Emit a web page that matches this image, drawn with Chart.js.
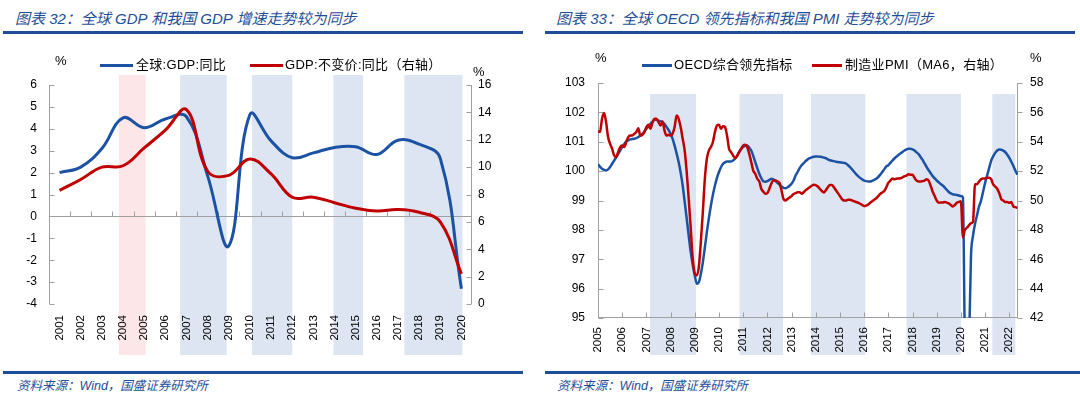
<!DOCTYPE html>
<html>
<head>
<meta charset="utf-8">
<script src="https://cdn.jsdelivr.net/npm/chart.js@4/dist/chart.umd.min.js"></script>
<style>
body{margin:0;background:#fff;width:1080px;height:395px;position:relative;overflow:hidden;font-family:"Liberation Sans","Noto Sans CJK SC",sans-serif;color:#000}
.t{position:absolute;top:7px;font-size:15px;font-style:italic;color:#1f4e96;white-space:nowrap}
.rule{position:absolute;height:3px;background:#1f4e96}
.src{position:absolute;top:375px;font-size:12.5px;font-style:italic;color:#1f4e96;white-space:nowrap}
.leg{position:absolute;font-size:13px;letter-spacing:0.3px;white-space:nowrap;line-height:14px}
.sw{position:absolute;height:3px}
.pct{position:absolute;font-size:13px;line-height:14px}
canvas{position:absolute}
</style>
</head>
<body>
<div class="t" style="left:15px">图表 32：全球 GDP 和我国 GDP 增速走势较为同步</div>
<div class="rule" style="left:3px;width:520px;top:31px"></div>
<div class="t" style="left:556px">图表 33：全球 OECD 领先指标和我国 PMI 走势较为同步</div>
<div class="rule" style="left:545px;width:530px;top:31px"></div>

<canvas id="c1" width="520" height="325" style="left:0;top:40px"></canvas>
<canvas id="c2" width="540" height="325" style="left:540px;top:40px"></canvas>

<div class="pct" style="left:55px;top:54px">%</div>
<div class="pct" style="left:473px;top:65px">%</div>
<div class="sw" style="left:100px;top:64px;width:33px;background:#1b52a3"></div>
<div class="leg" style="left:136px;top:58px">全球:GDP:同比</div>
<div class="sw" style="left:250px;top:64px;width:33px;background:#c00000"></div>
<div class="leg" style="left:285px;top:58px">GDP:不变价:同比（右轴）</div>

<div class="pct" style="left:595px;top:51px">%</div>
<div class="pct" style="left:1030px;top:51px">%</div>
<div class="sw" style="left:642px;top:64px;width:30px;background:#1b52a3"></div>
<div class="leg" style="left:674px;top:58px">OECD综合领先指标</div>
<div class="sw" style="left:812px;top:64px;width:30px;background:#c00000"></div>
<div class="leg" style="left:845px;top:58px">制造业PMI（MA6，右轴）</div>

<div class="rule" style="left:3px;width:520px;top:371px"></div>
<div class="src" style="left:17px">资料来源：Wind，国盛证券研究所</div>
<div class="rule" style="left:545px;width:535px;top:371px"></div>
<div class="src" style="left:557px">资料来源：Wind，国盛证券研究所</div>

<script>
// left chart: yearly GDP growth
const years = ['2001','2002','2003','2004','2005','2006','2007','2008','2009','2010',
  '2011','2012','2013','2014','2015','2016','2017','2018','2019','2020']
const worldGdp = [2.0, 2.25, 3.1, 4.5, 4.05, 4.45, 4.55, 1.85, -1.35, 4.65,
  3.45, 2.68, 2.9, 3.15, 3.18, 2.83, 3.48, 3.3, 2.65, -3.3]
const chinaGdp = [8.3, 9.1, 10.0, 10.1, 11.4, 12.7, 14.2, 9.7, 9.4, 10.6,
  9.5, 7.8, 7.8, 7.4, 7.0, 6.8, 6.9, 6.7, 6.0, 2.2]
// shaded periods, in years
const gdpBands = [[2003.8, 2005.07, '#fde6e8'], [2006.7, 2008.9, '#dce5f1'], [2010.1, 2012.0, '#dce5f1'],
  [2013.95, 2015.35, '#dce5f1'], [2017.3, 2020.05, '#dce5f1']]

// right chart: monthly from Jan 2005
const startYear = 2005
const oecdCli = [
  100.23,100.15,100.08,100.04,100.02,100.06,100.14,100.25,100.36,100.47,100.59,100.70,
  100.82,100.92,101.01,101.05,101.08,101.09,101.10,101.12,101.16,101.21,101.27,101.35,
  101.44,101.53,101.61,101.68,101.75,101.75,101.72,101.70,101.67,101.60,101.50,101.40,
  101.27,101.10,100.87,100.60,100.31,99.95,99.51,98.95,98.38,97.80,97.24,96.80,
  96.45,96.17,96.22,96.50,96.90,97.40,97.93,98.40,98.83,99.20,99.51,99.77,
  99.97,100.13,100.25,100.30,100.33,100.33,100.33,100.36,100.42,100.52,100.65,100.75,
  100.82,100.86,100.87,100.80,100.70,100.52,100.31,100.10,99.91,99.76,99.65,99.64,
  99.66,99.70,99.74,99.72,99.67,99.60,99.54,99.48,99.43,99.42,99.45,99.50,
  99.57,99.68,99.85,99.97,100.10,100.20,100.27,100.34,100.40,100.44,100.47,100.49,
  100.50,100.50,100.49,100.48,100.46,100.44,100.40,100.37,100.35,100.34,100.32,100.31,
  100.30,100.29,100.28,100.26,100.20,100.14,100.06,99.98,99.90,99.83,99.77,99.72,
  99.68,99.66,99.65,99.65,99.67,99.70,99.74,99.80,99.88,99.97,100.06,100.16,
  100.20,100.28,100.36,100.43,100.49,100.55,100.60,100.65,100.70,100.74,100.76,100.76,
  100.74,100.70,100.64,100.58,100.48,100.38,100.26,100.14,100.03,99.93,99.83,99.75,
  99.68,99.62,99.56,99.51,99.44,99.36,99.29,99.24,99.21,99.20,99.19,99.17,
  99.15,99.10,94.00,93.00,94.00,97.10,97.80,98.20,98.50,98.80,99.00,99.30,
  99.60,99.85,100.10,100.35,100.50,100.62,100.70,100.74,100.73,100.70,100.65,100.56,
  100.45,100.32,100.18,100.02,99.88]
const pmiMa6 = [
  54.70,54.66,55.56,55.96,55.34,54.32,53.86,53.52,53.06,52.96,53.30,53.64,
  53.74,53.64,53.98,54.32,54.42,54.42,54.54,54.66,54.92,54.42,54.48,54.66,
  55.00,55.16,54.88,55.30,55.56,55.56,55.34,55.10,55.38,54.76,54.42,54.48,
  54.42,54.54,55.00,55.78,55.56,55.00,54.20,53.40,51.94,50.12,48.08,46.04,
  45.02,44.90,45.46,47.16,49.20,51.48,52.84,53.40,53.64,53.98,54.66,55.10,
  55.16,54.88,55.06,55.00,54.42,53.52,53.30,53.06,52.88,53.02,53.30,53.52,
  53.74,53.80,53.64,53.18,52.62,52.04,51.82,51.48,51.30,50.80,50.60,50.46,
  50.50,50.80,51.16,51.36,51.36,51.30,51.20,50.70,50.10,50.00,50.10,50.20,
  50.30,50.44,50.50,50.56,50.56,50.46,50.56,50.70,50.80,50.90,51.00,51.08,
  51.05,50.95,50.80,50.65,50.55,50.70,50.90,51.05,51.05,50.90,50.70,50.50,
  50.30,50.10,50.00,50.00,50.05,50.05,50.00,49.95,49.90,49.85,49.78,49.70,
  49.62,49.65,49.72,49.85,49.95,50.05,50.15,50.30,50.45,50.55,50.65,50.90,
  51.20,51.35,51.50,51.45,51.48,51.50,51.52,51.58,51.65,51.70,51.78,51.76,
  51.75,51.55,51.35,51.30,51.30,51.32,51.35,51.45,51.35,51.00,50.60,50.30,
  50.00,49.85,49.86,49.86,49.90,49.86,49.80,49.70,49.60,49.70,49.85,49.90,
  49.95,47.50,48.00,48.15,48.30,48.45,48.55,51.10,51.10,51.30,51.45,51.50,
  51.50,51.55,51.55,51.45,51.10,50.95,50.80,50.50,50.10,50.00,49.90,49.90,
  49.85,49.90,49.60,49.55,49.50]
const pmiBands = [[2007.15, 2009.05], [2010.85, 2012.65], [2013.8, 2016.05],
  [2017.75, 2020.0], [2021.3, 2022.25]]

const BLUE = '#1b52a3'
const RED = '#c00000'
const AXIS = '#a0a0a0'

// bands, axis lines and inward ticks
const decor = {
  id: 'decor',
  beforeDraw(chart, args, o) {
    const {ctx, chartArea: a, scales} = chart
    const x = scales.x
    ctx.save()
    o.bands.forEach(b => {
      const x1 = x.getPixelForValue(b[0] - o.xBase)
      const x2 = x.getPixelForValue(b[1] - o.xBase)
      ctx.fillStyle = b[2] || '#dce5f1'
      ctx.fillRect(x1, a.top + o.bandTop, x2 - x1, a.bottom + o.bandBottom - a.top - o.bandTop)
    })
    ctx.restore()
  },
  beforeDatasetsDraw(chart, args, o) {
    const {ctx, chartArea: a, scales} = chart
    ctx.save()
    ctx.strokeStyle = AXIS
    ctx.lineWidth = 1
    ctx.beginPath()
    const yl = scales.y, yr = scales.y1
    const lx = Math.round(a.left) + 0.5, rx = Math.round(a.right) - 0.5
    ctx.moveTo(lx, a.top); ctx.lineTo(lx, a.bottom)
    ctx.moveTo(rx, a.top); ctx.lineTo(rx, a.bottom)
    yl.ticks.forEach(t => {
      const py = Math.round(yl.getPixelForValue(t.value)) + 0.5
      ctx.moveTo(lx, py); ctx.lineTo(lx + 5 * o.leftDir, py)
    })
    yr.ticks.forEach(t => {
      const py = Math.round(yr.getPixelForValue(t.value)) + 0.5
      ctx.moveTo(rx, py); ctx.lineTo(rx + 5 * o.rightDir, py)
    })
    const x = scales.x
    if (o.zeroLine) {
      const py = Math.round(yl.getPixelForValue(0)) + 0.5
      ctx.moveTo(a.left, py); ctx.lineTo(a.right, py)
      for (let i = 0; i < x.ticks.length - 1; i++) {
        const px = Math.round((x.getPixelForValue(i) + x.getPixelForValue(i + 1)) / 2) + 0.5
        ctx.moveTo(px, py); ctx.lineTo(px, py - 5)
      }
    } else {
      const py = Math.round(a.bottom) - 0.5
      ctx.moveTo(a.left, py); ctx.lineTo(a.right, py)
      x.ticks.forEach(t => {
        const px = Math.round(x.getPixelForValue(t.value)) + 0.5
        ctx.moveTo(px, py); ctx.lineTo(px, py - 5)
      })
    }
    ctx.stroke()
    ctx.restore()
  }
}

Chart.defaults.font.family = '"Liberation Sans", "Noto Sans CJK SC", sans-serif'
Chart.defaults.color = '#000'

const tickFont = {size: 12}
const noGrid = {display: false, drawTicks: false}

new Chart(document.getElementById('c1'), {
  type: 'line',
  data: {
    labels: years,
    datasets: [
      {label: 'GDP:不变价:同比（右轴）', data: chinaGdp, yAxisID: 'y1', borderColor: RED, borderWidth: 3,
        pointRadius: 0, tension: 0.4, order: 0},
      {label: '全球:GDP:同比', data: worldGdp, yAxisID: 'y', borderColor: BLUE, borderWidth: 3,
        pointRadius: 0, tension: 0.4, order: 1},
    ],
  },
  options: {
    responsive: false,
    animation: false,
    layout: {padding: {top: 45, left: 0, right: 0, bottom: 0}},
    plugins: {
      legend: {display: false},
      tooltip: {enabled: false},
      decor: {bands: gdpBands, xBase: 2001, bandTop: -10, bandBottom: 51, leftDir: 1, rightDir: -1, zeroLine: true},
    },
    scales: {
      x: {offset: true, grid: noGrid, border: {display: false},
        ticks: {minRotation: 90, maxRotation: 90, autoSkip: false, padding: 11, font: {size: 11.5}},
        afterFit: s => { s.height = 61 }},
      y: {position: 'left', min: -4, max: 6, grid: noGrid, border: {display: false},
        ticks: {stepSize: 1, padding: 12, font: tickFont},
        afterFit: s => { s.width = 49 }},
      y1: {position: 'right', min: 0, max: 16, grid: noGrid, border: {display: false},
        ticks: {stepSize: 2, padding: 6, font: tickFont},
        afterFit: s => { s.width = 48 }},
    },
  },
  plugins: [decor],
})

const toPoints = arr => arr.map((v, i) => ({x: startYear + i / 12, y: v}))

new Chart(document.getElementById('c2'), {
  type: 'line',
  data: {
    datasets: [
      {label: '制造业PMI（MA6，右轴）', data: toPoints(pmiMa6), yAxisID: 'y1', borderColor: RED, borderWidth: 2.5,
        pointRadius: 0, cubicInterpolationMode: 'monotone', order: 0},
      {label: 'OECD综合领先指标', data: toPoints(oecdCli), yAxisID: 'y', borderColor: BLUE, borderWidth: 2.5,
        pointRadius: 0, cubicInterpolationMode: 'monotone', order: 1},
    ],
  },
  options: {
    responsive: false,
    animation: false,
    layout: {padding: {top: 43, left: 0, right: 0, bottom: 0}},
    plugins: {
      legend: {display: false},
      tooltip: {enabled: false},
      decor: {bands: pmiBands, xBase: 0, bandTop: 11, bandBottom: 37, leftDir: 1, rightDir: 1, zeroLine: false},
    },
    scales: {
      x: {type: 'linear', min: 2005, max: 2022.36, grid: noGrid, border: {display: false},
        ticks: {stepSize: 1, includeBounds: false, minRotation: 90, maxRotation: 90, autoSkip: false,
          padding: 9, font: {size: 11.5}, callback: v => String(v)},
        afterFit: s => { s.height = 47 }},
      y: {position: 'left', min: 95, max: 103, grid: noGrid, border: {display: false},
        ticks: {stepSize: 1, padding: 13, font: tickFont},
        afterFit: s => { s.width = 58 }},
      y1: {position: 'right', min: 42, max: 58, grid: noGrid, border: {display: false},
        ticks: {stepSize: 2, padding: 12, font: tickFont},
        afterFit: s => { s.width = 62 }},
    },
  },
  plugins: [decor],
})
</script>
</body>
</html>
